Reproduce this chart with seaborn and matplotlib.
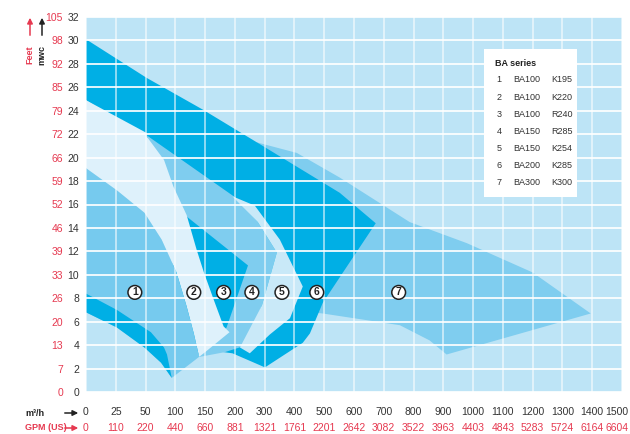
import numpy as np
import matplotlib
matplotlib.use("Agg")
import matplotlib.pyplot as plt
import matplotlib.transforms as mtransforms
import seaborn as sns

# x axis: m3/h ticks (equally spaced on the chart) and matching US GPM
flow_ticks = [0, 25, 50, 100, 150, 200, 300, 400, 500, 600, 700, 800,
              900, 1000, 1100, 1200, 1300, 1400, 1500]
gpm_labels = ['0', '110', '220', '440', '660', '881', '1321', '1761', '2201',
              '2642', '3082', '3522', '3963', '4403', '4843', '5283', '5724',
              '6164', '6604']
# y axis: head in mwc and in feet
mwc_ticks = list(range(0, 33, 2))
feet_labels = ['0', '7', '13', '20', '26', '33', '39', '46', '52', '59', '66',
               '72', '79', '85', '92', '98', '105']

# areas (flow m3/h, head mwc), drawn back to front
region7_flow = [274, 408, 552, 787, 979, 1200, 1395, 911, 854, 754, 495, 385, 250]
region7_head = [21.3, 20.4, 18.3, 14.5, 12.7, 10.2, 6.7, 3.2, 4.4, 5.7, 6.7, 7.0, 16.4]

region6_flow = [0, 52, 146, 274, 552, 673, 576, 495, 452, 428, 301, 196, 153, 140, 107, 57, 0]
region6_head = [30.1, 26.8, 24.1, 21.3, 17.0, 14.4, 10.7, 7.6, 5.0, 4.2, 2.1, 3.3, 3.6, 3.0, 7.8, 21.5, 24.9]

region4_flow = [52, 198, 277, 341, 291, 240, 183, 141, 91]
region4_head = [21.9, 16.7, 14.5, 11.9, 7.4, 4.0, 3.4, 3.0, 16.4]

region3_flow = [111, 244, 186, 166, 133]
region3_head = [15.3, 10.8, 5.5, 4.4, 7.8]

region2_flow = [0, 52, 52, 81, 97, 119, 136, 148, 165, 181, 191, 150, 140,
                131, 119, 102, 77, 49, 26, 0]
region2_head = [24.9, 22.1, 21.8, 19.8, 17.5, 15.1, 12.1, 10.2, 7.8, 5.6, 5.1, 3.4, 3.0,
                5.0, 7.3, 10.2, 13.0, 15.3, 17.2, 19.1]

region5_flow = [196, 267, 351, 428, 385, 317, 250, 217, 291, 341, 277, 203]
region5_head = [16.7, 15.9, 13.0, 9.0, 6.3, 4.9, 3.3, 3.8, 7.4, 11.9, 14.5, 16.4]

region1_flow = [0, 26, 49, 77, 102, 119, 131, 140, 94, 76, 49, 26, 0]
region1_head = [19.1, 17.2, 15.3, 13.0, 10.2, 7.3, 5.0, 3.0, 1.2, 2.5, 3.8, 5.5, 6.8]

region1_low_flow = [0, 26, 59, 81, 86, 94, 76, 49, 26, 0]
region1_low_head = [8.4, 7.0, 5.1, 3.8, 3.2, 1.2, 2.5, 3.8, 5.5, 6.8]

# numbered markers
marker_ids = ['1', '2', '3', '4', '5', '6', '7']
marker_flow = [41, 131, 181, 257, 358, 475, 750]
marker_head = [8.5] * 7

series_models = ['BA100', 'BA100', 'BA100', 'BA150', 'BA150', 'BA200', 'BA300']
series_codes = ['K195', 'K220', 'R240', 'R285', 'K254', 'K285', 'K300']

BG = '#bde4f6'
MID = '#7fcdef'
DARK = '#00afe5'
LIGHT = '#def1fb'
PALE = '#c9e9f8'
RED = '#e63950'
INK = '#333333'

sns.set_theme(style='white')
plt.rcParams['font.family'] = ['Liberation Sans Narrow', 'Liberation Sans', 'DejaVu Sans']

fig = plt.figure(figsize=(6.3, 4.34), dpi=100)
ax = fig.add_axes([86 / 630, 1 - 392 / 434, 536 / 630, 375 / 434])

idx = np.arange(len(flow_ticks))
ax.set_xscale('function', functions=(lambda v: np.interp(v, flow_ticks, idx),
                                     lambda v: np.interp(v, idx, flow_ticks)))
ax.set_xlim(0, 1500)
ax.set_ylim(0, 32)
ax.set_facecolor(BG)

layers = [
    (region7_flow, region7_head, MID),
    (region6_flow, region6_head, DARK),
    (region4_flow, region4_head, MID),
    (region3_flow, region3_head, DARK),
    (region2_flow, region2_head, LIGHT),
    (region5_flow, region5_head, PALE),
    (region1_flow, region1_head, '#76caee'),
    (region1_low_flow, region1_low_head, DARK),
]
for fx, hy, col in layers:
    ax.fill(fx, hy, color=col, lw=0, zorder=1)

ax.set_xticks(flow_ticks)
ax.set_xticklabels([str(v) for v in flow_ticks], color=INK, fontsize=7.5)
ax.set_yticks(mwc_ticks)
ax.set_yticklabels([str(v) for v in mwc_ticks], color=INK, fontsize=7.5)
ax.tick_params(axis='x', length=0, pad=11)
ax.tick_params(axis='y', length=0, pad=5)
ax.xaxis.grid(True, color='white', lw=1.3, alpha=0.6, zorder=2)
ax.yaxis.grid(True, color='white', lw=1.3, alpha=0.95, zorder=2)
ax.set_axisbelow(False)
sns.despine(ax=ax, left=True, bottom=True)

# last x label sits a little inside the right edge
shift = mtransforms.ScaledTranslation(-5 / 100, 0, fig.dpi_scale_trans)
last = ax.get_xticklabels()[-1]
last.set_transform(last.get_transform() + shift)

# second row of y labels: feet
sec_y = ax.secondary_yaxis(-0.043)
sec_y.set_yticks(mwc_ticks)
sec_y.set_yticklabels(feet_labels, color=RED, fontsize=7.5)
sec_y.tick_params(length=0, pad=0)
sec_y.spines['left'].set_visible(False)

# second row of x labels: GPM (US)
xb = ax.get_xaxis_transform()
for i, (fx, g) in enumerate(zip(flow_ticks, gpm_labels)):
    tr = xb + shift if i == len(flow_ticks) - 1 else xb
    ax.text(fx, -0.097, g, transform=tr, ha='center',
            va='center', fontsize=7.5, color=RED, clip_on=False)

# numbered markers
for t, fx, hy in zip(marker_ids, marker_flow, marker_head):
    ax.text(fx, hy, t, ha='center', va='center', fontsize=7.5, fontweight='bold',
            color='#222222', zorder=5,
            bbox=dict(boxstyle='circle,pad=0.18', fc='white', ec='#222222', lw=1.1))

# series table
ax.add_patch(plt.Rectangle((0.7425, 0.52), 0.1735, 0.395, transform=ax.transAxes,
                           fc='white', ec='none', zorder=4))
ax.text(0.763, 0.877, 'BA series', transform=ax.transAxes, fontsize=6.5,
        fontweight='bold', color='#222222', va='center', zorder=5)
for i, (m, c) in enumerate(zip(series_models, series_codes)):
    yy = 0.832 - i * 0.0455
    ax.text(0.766, yy, str(i + 1), transform=ax.transAxes, fontsize=6.5,
            color=INK, va='center', zorder=5)
    ax.text(0.797, yy, m, transform=ax.transAxes, fontsize=6.5,
            color=INK, va='center', zorder=5)
    ax.text(0.868, yy, c, transform=ax.transAxes, fontsize=6.5,
            color=INK, va='center', zorder=5)

# unit captions and arrows
fig.text(25 / 630, 1 - 413 / 434, 'm³/h', fontsize=6.5, fontweight='bold',
         color='#222222', va='center')
fig.text(25 / 630, 1 - 428 / 434, 'GPM (US)', fontsize=6.5, fontweight='bold',
         color=RED, va='center')
for yy, col in [(413, '#222222'), (428, RED)]:
    ax.annotate('', xy=(81, 434 - yy), xytext=(62, 434 - yy),
                xycoords='figure pixels', textcoords='figure pixels',
                arrowprops=dict(arrowstyle='-|>', color=col, lw=1.1,
                                mutation_scale=8), annotation_clip=False)
for xx, col in [(30, RED), (42, '#222222')]:
    ax.annotate('', xy=(xx, 434 - 15), xytext=(xx, 434 - 38),
                xycoords='figure pixels', textcoords='figure pixels',
                arrowprops=dict(arrowstyle='-|>', color=col, lw=1.1,
                                mutation_scale=8), annotation_clip=False)
fig.text(30 / 630, 1 - 55 / 434, 'Feet', rotation=90, fontsize=6.5,
         fontweight='bold', color=RED, ha='center', va='center')
fig.text(42 / 630, 1 - 55 / 434, 'mwc', rotation=90, fontsize=6.5,
         fontweight='bold', color='#222222', ha='center', va='center')

fig.savefig('out.png', dpi=100)
